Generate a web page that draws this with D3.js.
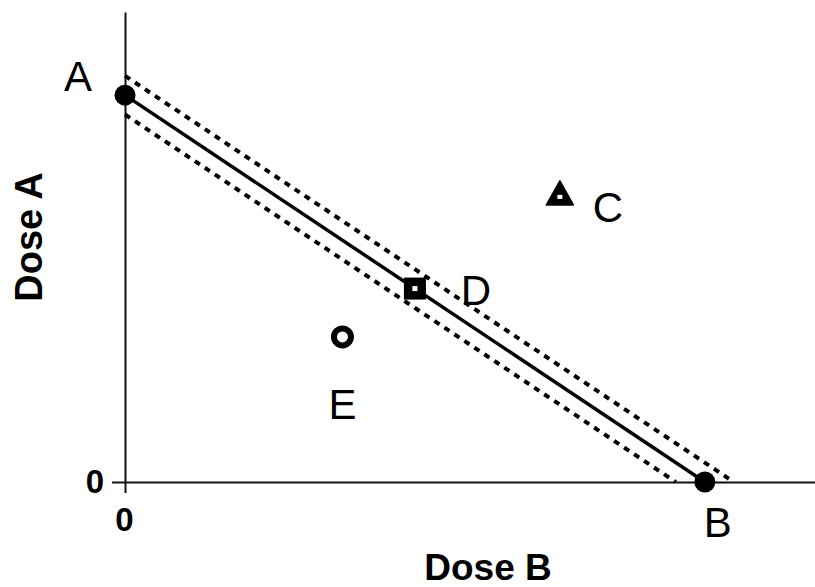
<!DOCTYPE html>
<html>
<head>
<meta charset="utf-8">
<script src="https://cdn.jsdelivr.net/npm/d3@7/dist/d3.min.js"></script>
<style>
  html, body { margin: 0; padding: 0; background: #fff; }
  svg { display: block; font-family: "Liberation Sans", Arial, sans-serif; }
</style>
</head>
<body>
<svg id="chart" width="815" height="587"></svg>
<script>
// Isobologram: doses of drug A and drug B (fractions of each single-agent dose)
const pointLabels = ["A", "B", "C", "D", "E"];
const doseB = [0, 1, 0.75, 0.5, 0.375];
const doseA = [1, 0, 0.75, 0.5, 0.375];
const markerKinds = ["dot", "dot", "triangle", "square", "ring"];

// Additive isobole and its confidence band (intercept on both axes)
const isoboleIntercepts = [0.95, 1, 1.05];
const isoboleStyles = ["dashed", "solid", "dashed"];

const xTickValues = [0];
const yTickValues = [0];
const xTickLabels = ["0"];
const yTickLabels = ["0"];

const svg = d3.select("#chart");

const x = d3.scaleLinear().domain([0, 1.19]).range([125, 815]);
const y = d3.scaleLinear().domain([0, 1.215]).range([482, 12]);

// Axes
const xAxis = d3.axisBottom(x)
  .tickValues(xTickValues)
  .tickFormat((d, i) => xTickLabels[i])
  .tickSizeInner(11)
  .tickSizeOuter(0);
const yAxis = d3.axisLeft(y)
  .tickValues(yTickValues)
  .tickFormat((d, i) => yTickLabels[i])
  .tickSizeInner(13)
  .tickSizeOuter(0);

const gx = svg.append("g").attr("transform", `translate(0,${y(0)})`).call(xAxis);
const gy = svg.append("g").attr("transform", `translate(${x(0)},0)`).call(yAxis);

[gx, gy].forEach(g => {
  g.select(".domain").attr("stroke", "#111").attr("stroke-width", 2);
  g.selectAll(".tick line").attr("stroke", "#111").attr("stroke-width", 2);
  g.selectAll(".tick text")
    .attr("fill", "#000")
    .attr("font-size", 33)
    .attr("font-weight", "bold")
    .attr("font-family", "'Liberation Sans', Arial, sans-serif");
});
gx.selectAll(".tick text").attr("y", 49).attr("dy", null).attr("x", -1);
gy.selectAll(".tick text").attr("x", -21).attr("y", 10).attr("dy", null);

// Isobole lines
const lineGen = d3.line().x(d => x(d[0])).y(d => y(d[1]));
svg.append("g")
  .selectAll("path")
  .data(isoboleIntercepts)
  .join("path")
  .attr("d", v => lineGen([[0, v], [v, 0]]))
  .attr("fill", "none")
  .attr("stroke", "#000")
  .attr("stroke-width", (v, i) => isoboleStyles[i] === "solid" ? 3.5 : 4)
  .attr("stroke-dasharray", (v, i) => isoboleStyles[i] === "solid" ? null : "6,6");

// Markers
const marks = svg.append("g");
pointLabels.forEach((lab, i) => {
  const cx = x(doseB[i]), cy = y(doseA[i]);
  const g = marks.append("g").attr("transform", `translate(${cx},${cy})`);
  const kind = markerKinds[i];
  if (kind === "dot") {
    g.append("circle").attr("r", 10.5).attr("fill", "#000");
  } else if (kind === "triangle") {
    g.append("path")
      .attr("d", "M0,-11 L13.5,13 L-13.5,13 Z")
      .attr("fill", "#000")
      .attr("stroke", "#000")
      .attr("stroke-width", 1.5)
      .attr("stroke-linejoin", "round");
    g.append("rect").attr("x", -2.5).attr("y", 3).attr("width", 5).attr("height", 4).attr("fill", "#fff");
  } else if (kind === "square") {
    g.append("rect").attr("x", -11).attr("y", -11).attr("width", 22).attr("height", 22).attr("fill", "#000");
    g.append("rect").attr("x", -2.5).attr("y", -2.5).attr("width", 5).attr("height", 5).attr("fill", "#fff");
  } else if (kind === "ring") {
    g.append("circle").attr("r", 8.5).attr("fill", "#fff").attr("stroke", "#000").attr("stroke-width", 6);
  }
});

// Point labels
const labelOffsets = {
  A: [-47, -19],
  B: [13, 40],
  C: [48, 15],
  D: [61, 2],
  E: [0, 67]
};
svg.append("g")
  .selectAll("text")
  .data(pointLabels)
  .join("text")
  .attr("x", (d, i) => x(doseB[i]) + labelOffsets[d][0])
  .attr("y", (d, i) => y(doseA[i]) + labelOffsets[d][1])
  .attr("dy", "0.35em")
  .attr("text-anchor", "middle")
  .attr("font-size", 42)
  .attr("fill", "#000")
  .text(d => d);

// Axis titles
svg.append("text")
  .attr("x", 488)
  .attr("y", 580)
  .attr("text-anchor", "middle")
  .attr("font-size", 37)
  .attr("font-weight", "bold")
  .attr("fill", "#000")
  .text("Dose B");

svg.append("text")
  .attr("transform", "translate(42,237) rotate(-90)")
  .attr("text-anchor", "middle")
  .attr("font-size", 38)
  .attr("font-weight", "bold")
  .attr("fill", "#000")
  .text("Dose A");
</script>
</body>
</html>
